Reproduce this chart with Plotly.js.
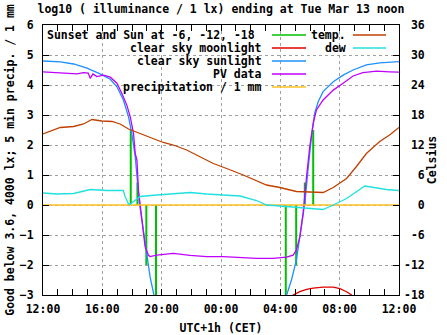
<!DOCTYPE html>
<html><head><meta charset="utf-8">
<script src="https://cdn.plot.ly/plotly-3.0.1.min.js"></script>
<style>html,body{margin:0;padding:0;background:#fff}#c{width:447px;height:335px}</style>
</head><body><div id="c"></div>
<script>
// ---------- data ----------
const tempTime = ['2018-03-12 12:00','2018-03-12 12:29','2018-03-12 13:10','2018-03-12 14:04','2018-03-12 14:44','2018-03-12 15:18','2018-03-12 15:58','2018-03-12 16:39','2018-03-12 17:12','2018-03-12 17:46','2018-03-12 18:20','2018-03-12 19:00','2018-03-12 19:40','2018-03-12 20:07','2018-03-12 20:47','2018-03-12 21:41','2018-03-12 22:35','2018-03-12 23:29','2018-03-13 00:23','2018-03-13 01:30','2018-03-13 03:04','2018-03-13 03:58','2018-03-13 05:05','2018-03-13 06:13','2018-03-13 06:53','2018-03-13 07:34','2018-03-13 08:28','2018-03-13 09:08','2018-03-13 09:48','2018-03-13 10:42','2018-03-13 11:22','2018-03-13 12:00'];
const tempC = [14.2,14.7,15.5,15.7,16.2,17.1,16.8,16.7,16.2,15.2,14.5,13.8,13.0,12.5,12.0,11.0,9.6,8.3,7.3,6.0,4.0,3.5,2.7,2.5,2.5,3.5,5.3,7.7,10.3,12.7,14.0,15.5];

const dewTime = ['2018-03-12 12:00','2018-03-12 12:57','2018-03-12 14:04','2018-03-12 15:11','2018-03-12 16:18','2018-03-12 17:12','2018-03-12 17:25','2018-03-12 17:32','2018-03-12 17:46','2018-03-12 17:53','2018-03-12 18:13','2018-03-12 18:33','2018-03-12 19:40','2018-03-12 20:47','2018-03-12 21:55','2018-03-12 23:02','2018-03-13 01:17','2018-03-13 02:24','2018-03-13 03:04','2018-03-13 03:58','2018-03-13 05:19','2018-03-13 06:53','2018-03-13 07:34','2018-03-13 08:28','2018-03-13 09:42','2018-03-13 10:15','2018-03-13 11:09','2018-03-13 12:00'];
const dewC = [2.4,2.2,2.3,3.1,2.9,2.8,2.9,1.7,0.2,0.2,1.0,1.7,2.0,2.3,2.5,2.2,1.8,0.9,0.0,-0.2,-0.5,-0.9,0.0,1.3,3.8,3.5,3.1,2.9];

const pvTime = ['2018-03-12 12:00','2018-03-12 12:57','2018-03-12 13:50','2018-03-12 14:17','2018-03-12 14:44','2018-03-12 15:03','2018-03-12 15:11','2018-03-12 15:22','2018-03-12 15:38','2018-03-12 16:05','2018-03-12 16:32','2018-03-12 16:59','2018-03-12 17:19','2018-03-12 17:39','2018-03-12 17:53','2018-03-12 18:06','2018-03-12 18:13','2018-03-12 18:20','2018-03-12 18:26','2018-03-12 18:33','2018-03-12 18:36','2018-03-12 18:44','2018-03-12 18:53','2018-03-12 19:06','2018-03-12 19:13','2018-03-12 19:40','2018-03-12 20:21','2018-03-12 20:47','2018-03-12 21:55','2018-03-12 23:02','2018-03-13 00:09','2018-03-13 01:17','2018-03-13 02:24','2018-03-13 03:31','2018-03-13 04:25','2018-03-13 04:52','2018-03-13 05:05','2018-03-13 05:19','2018-03-13 05:32','2018-03-13 05:46','2018-03-13 05:59','2018-03-13 06:13','2018-03-13 06:26','2018-03-13 06:53','2018-03-13 07:34','2018-03-13 08:14','2018-03-13 08:54','2018-03-13 09:34','2018-03-13 10:29','2018-03-13 11:22','2018-03-13 12:00'];
const pvLog = [4.44,4.41,4.39,4.37,4.41,4.40,4.22,4.37,4.28,4.33,4.26,4.06,3.72,3.33,2.94,2.39,1.72,1.5,0.5,-0.05,-0.17,-0.83,-1.39,-1.67,-1.72,-1.67,-1.63,-1.61,-1.68,-1.72,-1.72,-1.76,-1.78,-1.78,-1.74,-1.67,-1.5,-1.06,-0.28,0.94,1.94,2.72,3.17,3.5,3.83,4.06,4.3,4.41,4.46,4.44,4.43];

const sunTime = ['2018-03-12 12:00','2018-03-12 13:10','2018-03-12 14:04','2018-03-12 14:58','2018-03-12 15:51','2018-03-12 16:32','2018-03-12 16:59','2018-03-12 17:25','2018-03-12 17:46','2018-03-12 17:59','2018-03-12 18:13','2018-03-12 18:22','2018-03-12 18:30','2018-03-12 18:40','2018-03-12 18:53','2018-03-12 19:00','2018-03-12 19:13','2018-03-12 19:27','2018-03-12 19:40','2018-03-12 19:53','2018-03-13 04:10','2018-03-13 04:25','2018-03-13 04:45','2018-03-13 05:05','2018-03-13 05:19','2018-03-13 05:32','2018-03-13 05:39','2018-03-13 05:52','2018-03-13 06:06','2018-03-13 06:19','2018-03-13 06:33','2018-03-13 06:53','2018-03-13 07:34','2018-03-13 08:14','2018-03-13 08:54','2018-03-13 09:48','2018-03-13 10:42','2018-03-13 12:00'];
const sunLog = [4.8,4.77,4.7,4.56,4.37,4.19,3.94,3.5,2.94,2.39,1.61,0.83,0.06,-0.5,-1.28,-1.72,-2.39,-2.94,-3.5,-4.0,-3.4,-3.0,-2.5,-1.83,-1.1,-0.28,0.06,1.17,2.28,3.06,3.44,3.78,4.11,4.33,4.5,4.67,4.74,4.78];
const sunGap = [19]; // index after which the night gap starts

const moonTime = ['2018-03-13 04:39','2018-03-13 04:52','2018-03-13 05:19','2018-03-13 05:46','2018-03-13 06:13','2018-03-13 06:53','2018-03-13 07:34','2018-03-13 08:01','2018-03-13 08:28','2018-03-13 08:48','2018-03-13 09:01'];
const moonLog = [-3.3,-3.0,-2.89,-2.81,-2.77,-2.74,-2.74,-2.79,-2.89,-3.0,-3.3];

const precipTime = ['2018-03-12 12:00','2018-03-13 12:00'];
const precipMm = [0,0];

const eventTime = ['2018-03-12 17:55','2018-03-12 18:22','2018-03-12 18:58','2018-03-12 19:37','2018-03-13 04:22','2018-03-13 05:04','2018-03-13 05:39','2018-03-13 06:13'];
const eventLevel = [2.5,0.75,-2.0,-3.3,-3.3,-2.0,0.75,2.5];

const y2TickVals = [-18,-12,-6,0,6,12,18,24,30,36];
const y2TickText = ['-18','-12','\u00a0-6','\u00a0\u00a00','\u00a0\u00a06','\u00a012','\u00a018','\u00a024','\u00a030','\u00a036'];

// ---------- build ----------
const FONT = {family:'DejaVu Sans Mono, Liberation Mono, monospace', size:11.5, color:'#000', weight:700};
const C = {sun:'#00c000', moon:'#e00000', clear:'#1e90ff', pv:'#c000ff', precip:'#ffc020', temp:'#c04000', dew:'#20e0e0'};
const LW = 1.3;

const evX = [], evY = [];
eventTime.forEach((t,i)=>{ evX.push(t,t,null); evY.push(0,eventLevel[i],null); });
const sX = [], sY = [];
sunTime.forEach((t,i)=>{ sX.push(t); sY.push(sunLog[i]); if (sunGap.includes(i)) { sX.push(null); sY.push(null); } });

const traces = [
  {x:evX, y:evY, mode:'lines', line:{color:C.sun, width:2}, name:'Sunset and Sun at -6, -12, -18'},
  {x:moonTime, y:moonLog, mode:'lines', line:{color:C.moon, width:LW}, name:'clear sky moonlight'},
  {x:sX, y:sY, mode:'lines', line:{color:C.clear, width:LW}, name:'clear sky sunlight'},
  {x:pvTime, y:pvLog, mode:'lines', line:{color:C.pv, width:LW}, name:'PV data'},
  {x:precipTime, y:precipMm, mode:'lines', line:{color:C.precip, width:1.5}, name:'precipitation / 1 mm'},
  {x:tempTime, y:tempC, yaxis:'y2', mode:'lines', line:{color:C.temp, width:LW}, name:'temp.'},
  {x:dewTime, y:dewC, yaxis:'y2', mode:'lines', line:{color:C.dew, width:LW}, name:'dew'}
];

// legend (gnuplot style: text right-aligned, sample to the right)
const L = 43, R = 399, T = 25, B = 295;
const px = v => (v - L) / (R - L), py = v => (B - v) / (B - T);
const legendRows = [
  {name:traces[0].name + '\u00a0', col:0, row:0, color:C.sun},
  {name:traces[1].name, col:0, row:1, color:C.moon},
  {name:traces[2].name, col:0, row:2, color:C.clear},
  {name:traces[3].name, col:0, row:3, color:C.pv},
  {name:traces[4].name, col:0, row:4, color:C.precip},
  {name:traces[5].name, col:1, row:0, color:C.temp},
  {name:traces[6].name, col:1, row:1, color:C.dew}
];
const rowY = [35, 48, 61, 74, 87];
const colText = [264, 348], colS0 = [272, 353], colS1 = [306, 386];
const annotations = [], shapes = [
  {type:'rect', xref:'paper', yref:'paper', x0:px(44), x1:px(326), y0:py(92), y1:py(26), fillcolor:'#fff', line:{width:0}, layer:'between'},
  {type:'rect', xref:'paper', yref:'paper', x0:px(308), x1:px(392), y0:py(53), y1:py(26), fillcolor:'#fff', line:{width:0}, layer:'between'}
];
legendRows.forEach(r=>{
  annotations.push({xref:'paper', yref:'paper', x:px(colText[r.col]), y:py(rowY[r.row]), xanchor:'right', yanchor:'middle', text:r.name, showarrow:false, font:FONT});
  shapes.push({type:'line', xref:'paper', yref:'paper', x0:px(colS0[r.col]), x1:px(colS1[r.col]), y0:py(rowY[r.row]), y1:py(rowY[r.row]), line:{color:r.color, width:1.5}, layer:'above'});
});

const grid = {showgrid:true, gridcolor:'#a0a0a0', gridwidth:1, griddash:'3px,3px', zeroline:false};
const layout = {
  width:447, height:335, margin:{l:43, r:48, t:25, b:40},
  paper_bgcolor:'#fff', plot_bgcolor:'#fff', font:FONT, showlegend:false,
  title:{text:'log10 ( illuminance / 1 lx) ending at Tue Mar 13 noon', xref:'paper', x:0.5, xanchor:'center', yref:'container', y:1-9/335, yanchor:'middle', font:FONT},
  xaxis:Object.assign({type:'date', range:['2018-03-12 12:00','2018-03-13 12:00'], tick0:'2018-03-12 12:00', dtick:4*3600e3, tickformat:'%H:%M',
    ticks:'inside', ticklen:6, tickcolor:'#000', showline:true, linecolor:'#000', linewidth:1, mirror:'allticks',
    minor:{dtick:3600e3, ticks:'inside', ticklen:3, tickcolor:'#000', showgrid:false},
    title:{text:'UTC+1h (CET)', font:FONT, standoff:9}, tickfont:FONT, ticklabelstandoff:3}, grid),
  yaxis:Object.assign({range:[-3,6], dtick:1, ticks:'inside', ticklen:6, tickcolor:'#000', showline:true, linecolor:'#000', linewidth:1, mirror:true,
    title:{text:'Good below 3.6, 4000 lx; 5 min precip. / 1 mm', font:FONT, standoff:2}, tickfont:FONT, ticklabelstandoff:6}, grid),
  yaxis2:{overlaying:'y', side:'right', range:[-18,36], tickmode:'array', tickvals:y2TickVals, ticktext:y2TickText,
    ticks:'inside', ticklen:6, tickcolor:'#000', showgrid:false, zeroline:false, showline:false,
    title:{text:'Celsius', font:FONT, standoff:4}, tickfont:FONT, ticklabelstandoff:4},
  annotations, shapes
};
Plotly.newPlot('c', traces, layout, {staticPlot:true});
</script></body></html>
